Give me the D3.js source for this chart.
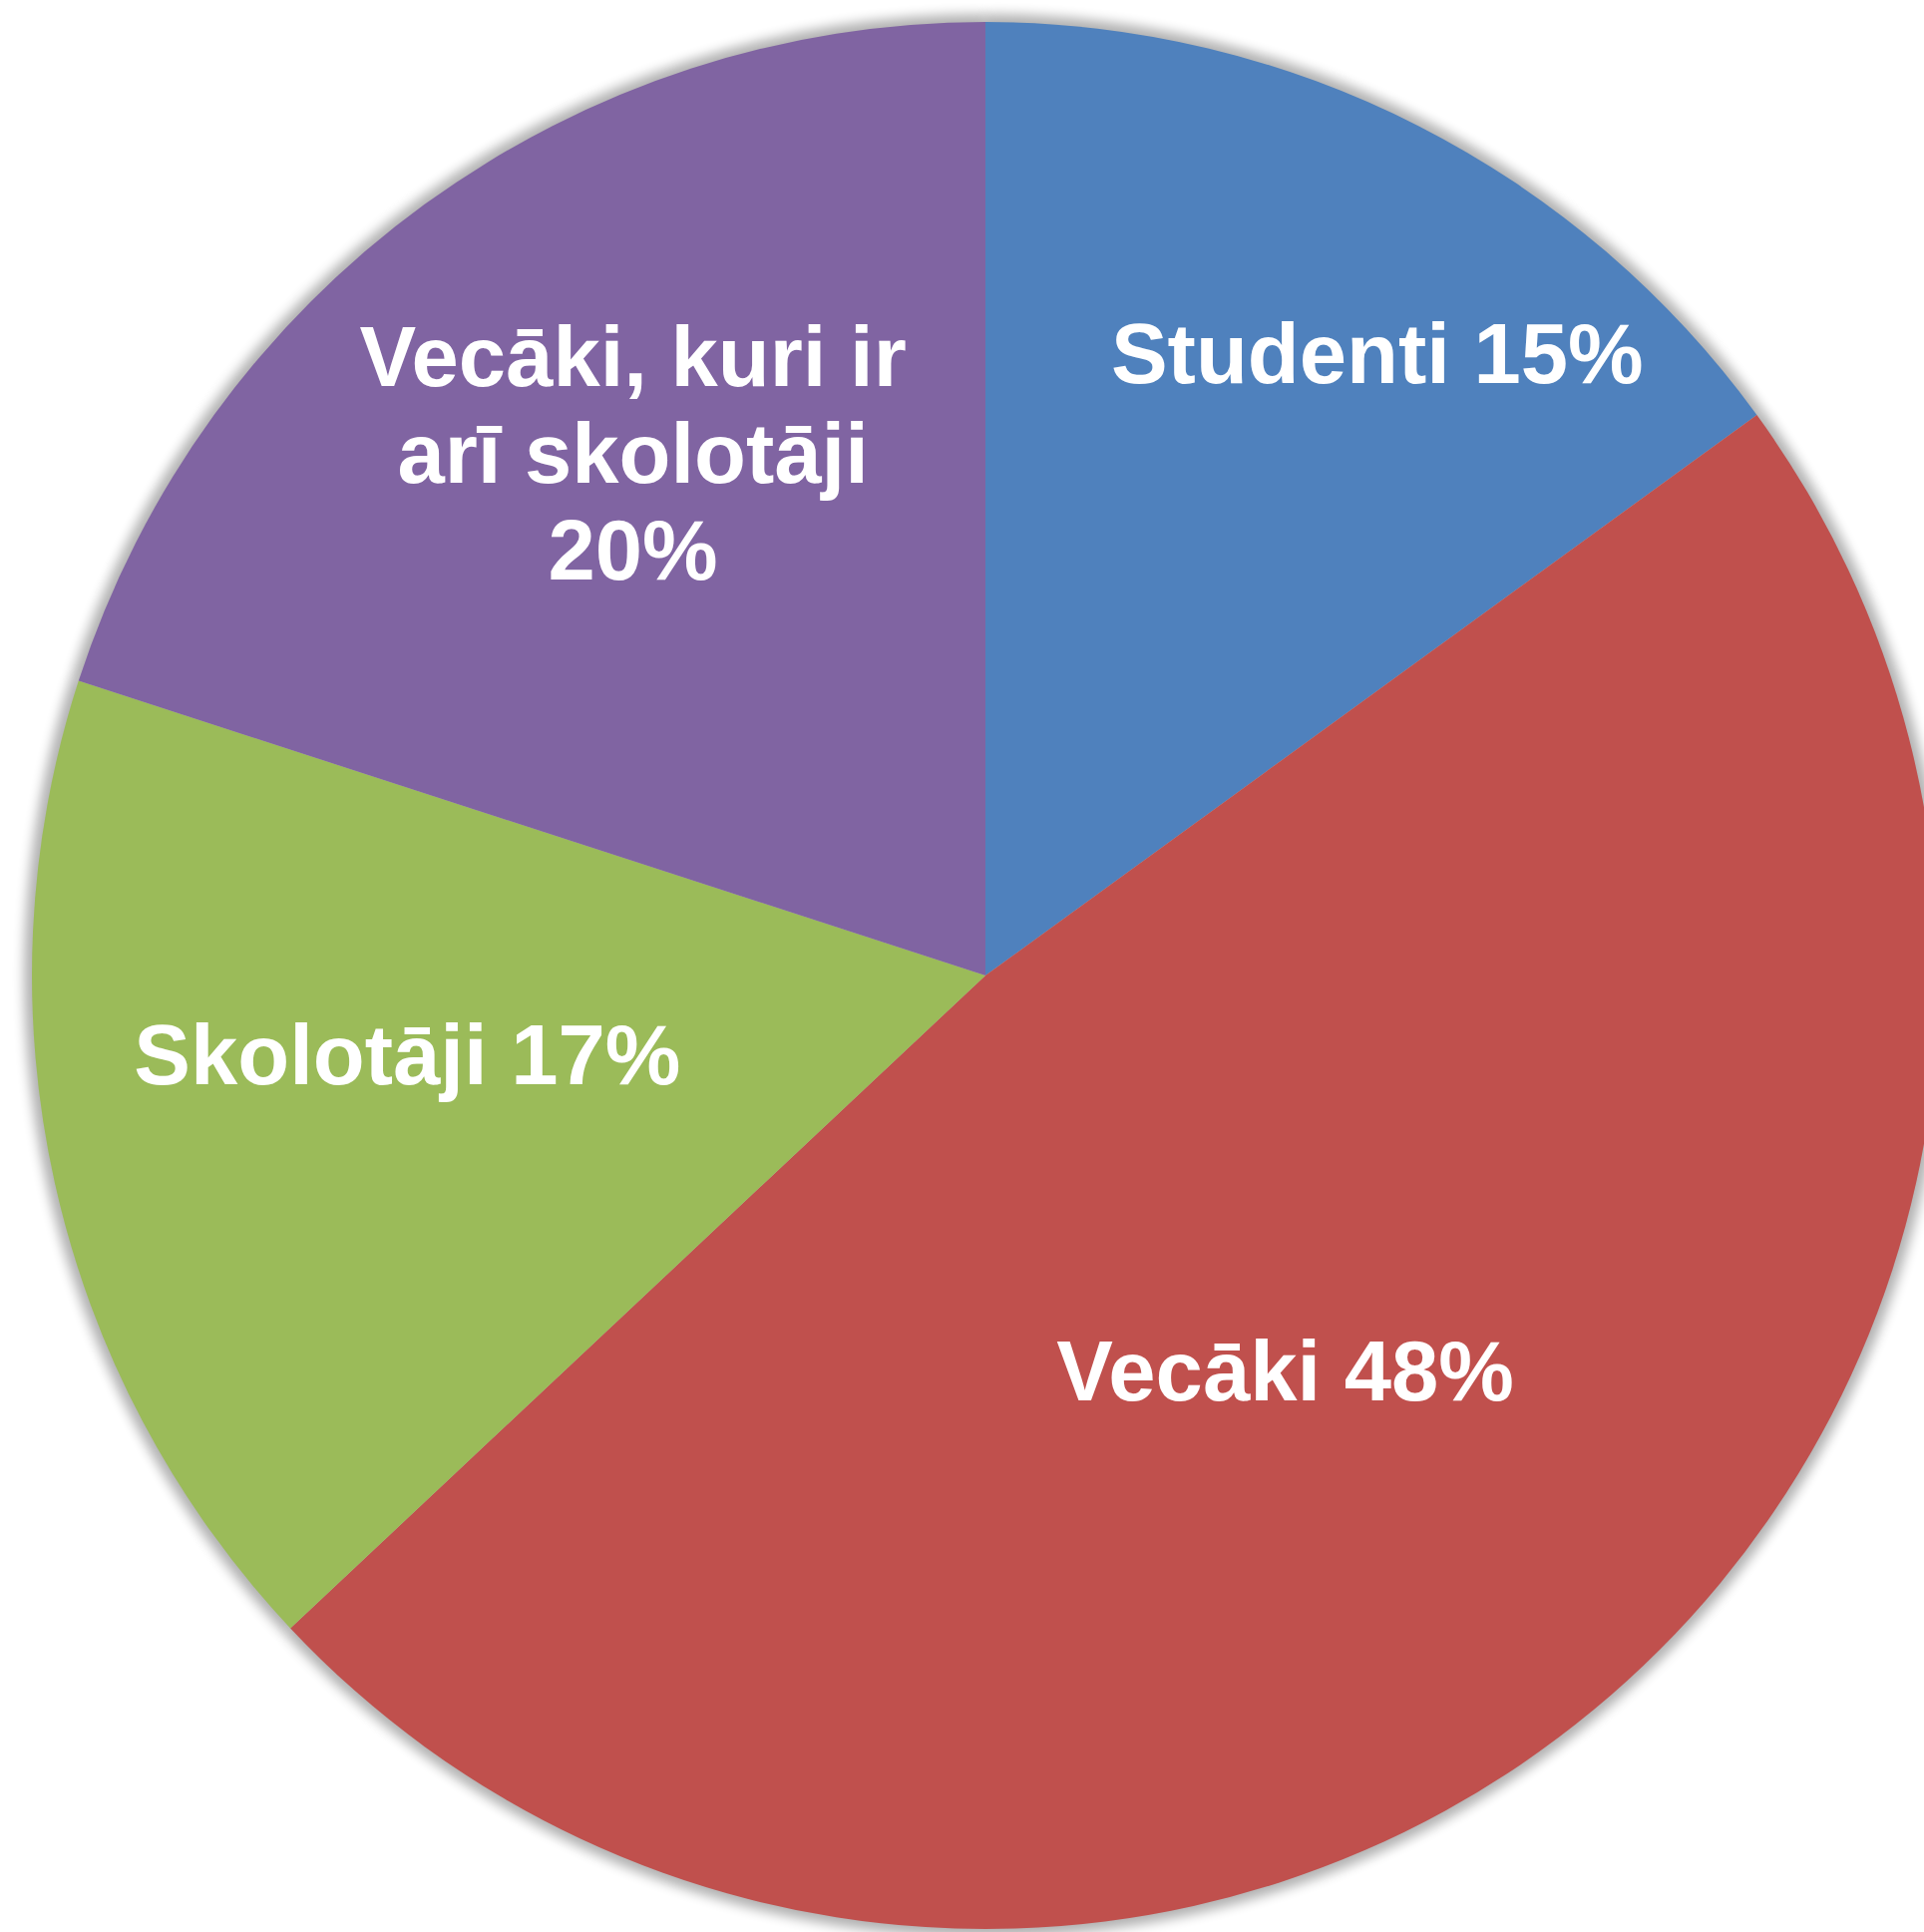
<!DOCTYPE html>
<html>
<head>
<meta charset="utf-8">
<script src="https://cdn.jsdelivr.net/npm/d3@7"></script>
<style>
    body { margin: 0; background: #fff; }
    .sliceLabel {
        font-family: 'Liberation Sans', Arial, sans-serif;
        font-weight: bold;
        font-size: 85px;
        fill: #fff;
    }
</style>
</head>
<body>
<div id="plot"></div>
<script>
// Data
let categories = ['Studenti', 'Vecāki', 'Skolotāji', 'Vecāki, kuri ir arī skolotāji'];
let shares = [15, 48, 17, 20];
let labelLines = [
    ['Studenti 15%'],
    ['Vecāki 48%'],
    ['Skolotāji 17%'],
    ['Vecāki, kuri ir', 'arī skolotāji', '20%']
];
let colors = ['#4F81BD', '#C0504D', '#9BBB59', '#8064A2'];

// Label placement: angle (deg, clockwise from top) and fraction of radius
let labelPolar = [[32.2, 0.771], [142.8, 0.520], [262.2, 0.612], [326.0, 0.661]];

let svgWidth = 1929;
let svgHeight = 1937;
let cx = 988;
let cy = 978;
let radius = 956;
let lineHeight = 97;

let $svg = d3.select('#plot')
    .append('svg')
    .attr('width', svgWidth)
    .attr('height', svgHeight);

let defs = $svg.append('defs');
defs.append('filter')
    .attr('id', 'blur')
    .attr('x', '-20%').attr('y', '-20%')
    .attr('width', '140%').attr('height', '140%')
    .append('feGaussianBlur')
    .attr('stdDeviation', 6);

let chartGroup = $svg.append('g')
    .attr('transform', `translate(${cx}, ${cy})`);

let pie = d3.pie()
    .sort(null)
    .value(d => d);

let arcs = pie(shares);

let arc = d3.arc()
    .innerRadius(0)
    .outerRadius(radius);

let shadowArc = d3.arc()
    .innerRadius(0)
    .outerRadius(radius + 8);

// Shadows, one per slice so they darken where slices meet
chartGroup.selectAll('.shadow')
    .data(arcs)
    .enter()
    .append('path')
    .attr('class', 'shadow')
    .attr('d', shadowArc)
    .attr('fill', '#000')
    .attr('opacity', 0.3)
    .attr('filter', 'url(#blur)');

// Slices
chartGroup.selectAll('.slice')
    .data(arcs)
    .enter()
    .append('path')
    .attr('class', 'slice')
    .attr('d', arc)
    .attr('fill', (d, i) => colors[i]);

// Labels
arcs.forEach((d, i) => {
    let angle = labelPolar[i][0] * Math.PI / 180;
    let dist = labelPolar[i][1] * radius;
    let x = dist * Math.sin(angle);
    let y = -dist * Math.cos(angle);
    let lines = labelLines[i];
    // vertical centre of the block -> first baseline
    let firstBaseline = y - (lines.length - 1) * lineHeight / 2 + 30;

    let text = chartGroup.append('text')
        .attr('class', 'sliceLabel')
        .attr('text-anchor', 'middle');

    lines.forEach((line, j) => {
        text.append('tspan')
            .attr('x', x)
            .attr('y', firstBaseline + j * lineHeight)
            .text(line);
    });
});
</script>
</body>
</html>
